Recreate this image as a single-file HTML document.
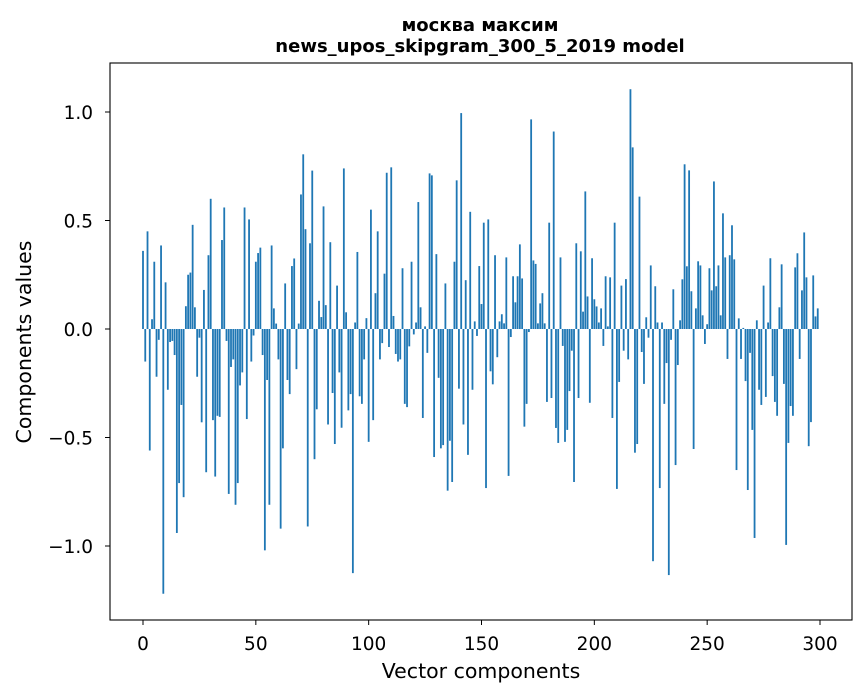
<!DOCTYPE html>
<html><head><meta charset="utf-8"><style>
body{margin:0;background:#fff;font-family:"DejaVu Sans","Liberation Sans",sans-serif;}
</style></head><body>
<svg id="chart" width="867" height="696" xmlns="http://www.w3.org/2000/svg" font-family="DejaVu Sans, Liberation Sans, sans-serif">
<rect width="867" height="696" fill="#fff"/>
<text x="480" y="31" text-anchor="middle" font-size="18" font-weight="bold">москва максим</text>
<text x="480" y="52" text-anchor="middle" font-size="18" font-weight="bold">news_upos_skipgram_300_5_2019 model</text>
<g id="bars"></g>
<g id="xticks"></g>
<g id="yticks"></g>
<rect x="110" y="63" width="742" height="557" fill="none" stroke="#000" stroke-width="1.1"/>
<text x="481" y="678" text-anchor="middle" font-size="20.5">Vector components</text>
<text transform="translate(31,342) rotate(-90)" text-anchor="middle" font-size="20.5">Components values</text>
</svg>
<script>
const values=[0.36,-0.15,0.45,-0.56,0.045,0.31,-0.22,-0.05,0.385,-1.22,0.215,-0.28,-0.06,-0.055,-0.12,-0.94,-0.71,-0.35,-0.775,0.105,0.25,0.26,0.48,0.10,-0.22,-0.04,-0.43,0.18,-0.66,0.34,0.60,-0.42,-0.68,-0.40,-0.405,0.41,0.56,-0.055,-0.76,-0.175,-0.14,-0.81,-0.71,-0.26,-0.20,0.56,-0.415,0.505,-0.15,-0.03,0.31,0.35,0.375,-0.12,-1.02,-0.235,-0.81,0.385,0.095,0.025,-0.14,-0.92,-0.55,0.21,-0.235,-0.30,0.29,0.325,-0.185,0.025,0.62,0.805,0.46,-0.91,0.395,0.73,
-0.60,-0.37,0.13,0.055,0.565,0.11,-0.44,0.40,-0.295,-0.53,0.20,-0.20,-0.455,0.74,0.077,-0.375,-0.30,-1.125,0.03,0.355,-0.31,-0.345,-0.14,0.05,-0.52,0.55,-0.42,0.165,0.45,-0.14,-0.065,0.255,0.72,-0.083,0.745,0.06,-0.115,-0.15,-0.14,0.28,-0.345,-0.36,-0.08,0.31,-0.025,0.03,0.585,0.10,-0.41,0.012,-0.11,0.717,0.708,-0.59,0.345,-0.225,-0.55,-0.535,0.21,-0.745,-0.515,-0.705,0.31,0.685,-0.275,0.995,-0.44,0.225,-0.58,0.54,-0.28,0.035,-0.032,0.29,
0.115,0.49,-0.733,0.505,-0.195,-0.255,0.34,-0.13,0.035,0.068,0.026,0.33,-0.677,-0.037,0.243,0.123,0.243,0.39,0.233,-0.45,-0.345,-0.014,0.966,0.316,0.30,0.026,0.118,0.165,0.026,-0.336,0.49,-0.318,0.91,-0.456,-0.525,0.33,-0.078,-0.52,-0.465,-0.286,-0.10,-0.705,0.395,-0.318,0.358,0.08,0.634,0.15,-0.34,0.326,0.137,0.104,0.03,0.095,-0.078,0.243,0.012,0.238,-0.41,0.49,-0.737,-0.244,0.20,-0.10,0.23,-0.14,1.105,0.837,-0.57,-0.53,0.61,-0.106,-0.253,0.054,-0.04,
0.293,-1.07,0.197,0.03,-0.733,0.03,-0.345,-0.157,-1.134,-0.05,0.183,-0.627,-0.166,0.04,0.229,0.759,0.289,0.731,0.174,-0.553,0.095,0.312,0.293,0.063,-0.069,0.022,0.28,0.178,0.68,0.197,0.293,0.063,0.533,0.33,-0.138,0.34,0.478,0.321,-0.65,0.049,-0.138,0.005,-0.24,-0.742,-0.11,-0.465,-0.963,0.04,-0.28,-0.35,0.20,-0.313,0.03,0.326,-0.217,-0.336,-0.40,0.10,0.298,-0.253,-0.995,-0.525,-0.355,-0.40,0.284,0.349,-0.138,0.178,0.445,0.238,-0.54,-0.429,0.247,0.058,0.095];
const xTickValues=[0,50,100,150,200,250,300];
const xTickLabels=["0","50","100","150","200","250","300"];
const yTickValues=[-1.0,-0.5,0.0,0.5,1.0];
const yTickLabels=["\u22121.0","\u22120.5","0.0","0.5","1.0"];
const NS="http://www.w3.org/2000/svg";
function xs(i){return 143+i*(677/300);}
function ys(v){return 329-v*217;}
const bw=0.8*(677/300);
const gb=document.getElementById('bars');
values.forEach(function(v,i){
  const r=document.createElementNS(NS,'rect');
  const y0=ys(0),y1=ys(v);
  r.setAttribute('x',xs(i)-bw/2);
  r.setAttribute('y',Math.min(y0,y1));
  r.setAttribute('width',bw);
  r.setAttribute('height',Math.abs(y1-y0));
  r.setAttribute('fill','#1f77b4');
  
  
  gb.appendChild(r);
});
const gx=document.getElementById('xticks');
xTickValues.forEach(function(t,k){
  const l=document.createElementNS(NS,'line');
  l.setAttribute('x1',xs(t));l.setAttribute('x2',xs(t));
  l.setAttribute('y1',620);l.setAttribute('y2',625);
  l.setAttribute('stroke','#000');
  
  
  gx.appendChild(l);
  const tx=document.createElementNS(NS,'text');
  tx.setAttribute('x',xs(t));tx.setAttribute('y',650);
  tx.setAttribute('text-anchor','middle');tx.setAttribute('font-size','18.5');
  tx.textContent=xTickLabels[k];
  
  
  gx.appendChild(tx);
});
const gy=document.getElementById('yticks');
yTickValues.forEach(function(t,k){
  const l=document.createElementNS(NS,'line');
  l.setAttribute('x1',105);l.setAttribute('x2',110);
  l.setAttribute('y1',ys(t));l.setAttribute('y2',ys(t));
  l.setAttribute('stroke','#000');
  
  
  gy.appendChild(l);
  const tx=document.createElementNS(NS,'text');
  tx.setAttribute('x',93);tx.setAttribute('y',ys(t)+7);
  tx.setAttribute('text-anchor','end');tx.setAttribute('font-size','18.5');
  tx.textContent=yTickLabels[k];
  
  
  gy.appendChild(tx);
});
</script>
</body></html>
